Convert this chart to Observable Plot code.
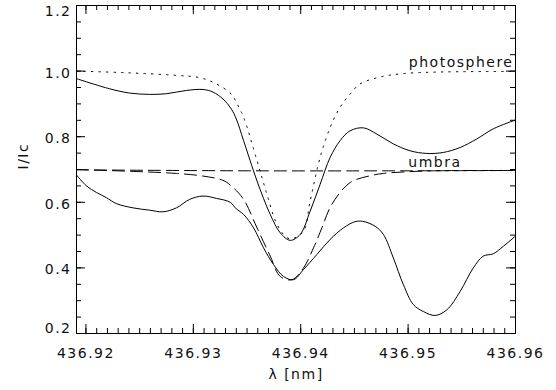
<!DOCTYPE html>
<html><head><meta charset="utf-8">
<script src="https://cdn.jsdelivr.net/npm/d3@7"></script>
<script src="https://cdn.jsdelivr.net/npm/@observablehq/plot@0.6"></script>
<style>body{margin:0;background:#fff} svg{display:block}</style>
</head><body><div id="chart"></div>
<script>
// Photosphere reference (dotted)
const photoRefX = [436.91912, 436.92377, 436.92842, 436.93059, 436.93214, 436.93353, 436.93400, 436.93468, 436.93593, 436.93686, 436.93779, 436.93872, 436.93930, 436.94026, 436.94088, 436.94181, 436.94274, 436.94367, 436.94460, 436.94553, 436.94740, 436.94940, 436.95260, 436.96000];
const photoRefY = [1.000, 0.995, 0.987, 0.980, 0.961, 0.930, 0.905, 0.859, 0.727, 0.624, 0.533, 0.492, 0.490, 0.512, 0.604, 0.737, 0.828, 0.890, 0.930, 0.961, 0.982, 0.992, 0.997, 0.999];
// Photosphere observed (solid)
const photoObsX = [436.91912, 436.92221, 436.92407, 436.92593, 436.92749, 436.92935, 436.93090, 436.93183, 436.93276, 436.93353, 436.93400, 436.93468, 436.93593, 436.93716, 436.93809, 436.93902, 436.93995, 436.94088, 436.94181, 436.94274, 436.94367, 436.94460, 436.94584, 436.94709, 436.94863, 436.95019, 436.95174, 436.95328, 436.95484, 436.95639, 436.95793, 436.96000];
const photoObsY = [0.977, 0.946, 0.933, 0.929, 0.931, 0.941, 0.944, 0.936, 0.915, 0.885, 0.854, 0.788, 0.665, 0.563, 0.507, 0.484, 0.502, 0.573, 0.655, 0.737, 0.788, 0.818, 0.827, 0.808, 0.778, 0.757, 0.749, 0.752, 0.767, 0.793, 0.824, 0.851];
// Umbra reference profile (dashed)
const umbraRefX = [436.91912, 436.92532, 436.92842, 436.93090, 436.93276, 436.93353, 436.93468, 436.93593, 436.93716, 436.93809, 436.93918, 436.94026, 436.94119, 436.94197, 436.94290, 436.94460, 436.94647, 436.94770, 436.94988, 436.95235, 436.96000];
const umbraRefY = [0.700, 0.693, 0.688, 0.680, 0.667, 0.650, 0.609, 0.522, 0.436, 0.374, 0.364, 0.400, 0.461, 0.522, 0.594, 0.660, 0.681, 0.688, 0.693, 0.696, 0.697];
// Umbra continuum level (dashed, flat)
const umbraContX = [436.91912, 436.93500, 436.95000, 436.96000];
const umbraContY = [0.699, 0.696, 0.696, 0.697];
// Umbra observed (solid)
const umbraObsX = [436.91912, 436.92005, 436.92098, 436.92191, 436.92284, 436.92439, 436.92593, 436.92718, 436.92842, 436.92966, 436.93090, 436.93214, 436.93344, 436.93400, 436.93468, 436.93561, 436.93654, 436.93747, 436.93840, 436.93933, 436.94026, 436.94151, 436.94274, 436.94398, 436.94507, 436.94577, 436.94693, 436.94770, 436.94863, 436.94956, 436.95049, 436.95142, 436.95251, 436.95360, 436.95484, 436.95607, 436.95700, 436.95793, 436.95887, 436.96000];
const umbraObsY = [0.683, 0.650, 0.630, 0.614, 0.596, 0.583, 0.576, 0.571, 0.583, 0.609, 0.619, 0.612, 0.600, 0.580, 0.563, 0.522, 0.461, 0.410, 0.374, 0.364, 0.395, 0.441, 0.487, 0.522, 0.541, 0.542, 0.527, 0.502, 0.430, 0.349, 0.288, 0.267, 0.255, 0.272, 0.328, 0.400, 0.436, 0.443, 0.466, 0.497];

// Annotations
const labelText = ["photosphere", "umbra"];
const labelX = [436.95981, 436.95498];
const labelY = [1.025, 0.721];

// Axes
const xDomain = [436.91912, 436.96];
const yDomain = [0.2, 1.2];
const xMajor = [436.92, 436.93, 436.94, 436.95, 436.96];
const yMajor = [0.2, 0.4, 0.6, 0.8, 1.0, 1.2];
const xMinor = d3.range(0, 41).map(i => 436.92 + i * 0.001);
const yMinor = d3.range(0, 21).map(i => 0.2 + i * 0.05);
const xTitle = "λ [nm]";
const yTitle = "I/Ic";

const toPts = (xs, ys) => xs.map((x, i) => ({x, y: ys[i]}));
const photoRef = toPts(photoRefX, photoRefY);
const photoObs = toPts(photoObsX, photoObsY);
const umbraRef = toPts(umbraRefX, umbraRefY);
const umbraCont = toPts(umbraContX, umbraContY);
const umbraObs = toPts(umbraObsX, umbraObsY);
const labels = labelText.map((t, i) => ({t, x: labelX[i], y: labelY[i]}));

const W = 556, H = 390, mL = 76, mR = 41, mT = 5, mB = 57;
const iw = W - mL - mR, ih = H - mT - mB;
const ink = "#000";
const lineOpts = {x: "x", y: "y", stroke: ink, strokeWidth: 1, curve: "catmull-rom"};

const chart = Plot.plot({
  width: W, height: H,
  marginLeft: mL, marginRight: mR, marginTop: mT, marginBottom: mB,
  style: {fontFamily: "'DejaVu Sans', sans-serif", fontSize: "14px", letterSpacing: "1.5px", color: "#111", background: "#fff"},
  x: {domain: xDomain},
  y: {domain: yDomain},
  marks: [
    Plot.line(photoRef, {...lineOpts, strokeDasharray: "1.5,6"}),
    Plot.line(photoObs, lineOpts),
    Plot.line(umbraCont, {...lineOpts, strokeDasharray: "12,6"}),
    Plot.line(umbraRef, {...lineOpts, strokeDasharray: "12,6"}),
    Plot.line(umbraObs, lineOpts),
    Plot.frame({stroke: ink}),
    // inward ticks, all four sides
    Plot.ruleX(xMajor, {x: d => d, insetTop: ih - 9, stroke: ink}),
    Plot.ruleX(xMajor, {x: d => d, insetBottom: ih - 9, stroke: ink}),
    Plot.ruleX(xMinor, {x: d => d, insetTop: ih - 5, stroke: ink}),
    Plot.ruleX(xMinor, {x: d => d, insetBottom: ih - 5, stroke: ink}),
    Plot.ruleY(yMajor, {y: d => d, insetRight: iw - 9, stroke: ink}),
    Plot.ruleY(yMajor, {y: d => d, insetLeft: iw - 9, stroke: ink}),
    Plot.ruleY(yMinor, {y: d => d, insetRight: iw - 5, stroke: ink}),
    Plot.ruleY(yMinor, {y: d => d, insetLeft: iw - 5, stroke: ink}),
    Plot.axisX({ticks: xMajor, tickSize: 0, tickPadding: 15, tickFormat: d3.format(".2f"), label: null}),
    Plot.axisY({ticks: yMajor.slice(1, -1), tickSize: 0, tickPadding: 5, dy: 2, tickFormat: d3.format(".1f"), label: null}),
    Plot.axisY({ticks: [yMajor[yMajor.length - 1]], tickSize: 0, tickPadding: 5, dy: 6, tickFormat: d3.format(".1f"), label: null}),
    Plot.axisY({ticks: [yMajor[0]], tickSize: 0, tickPadding: 5, dy: -5, tickFormat: d3.format(".1f"), label: null}),
    Plot.text([xTitle], {frameAnchor: "bottom", dy: 45, fontSize: 14}),
    Plot.text([yTitle], {frameAnchor: "left", dx: -53, rotate: -90, fontSize: 14}),
    Plot.text(labels, {x: "x", y: "y", text: "t", textAnchor: "end", fontSize: 14})
  ]
});
document.getElementById("chart").append(chart);
</script>
</body></html>
